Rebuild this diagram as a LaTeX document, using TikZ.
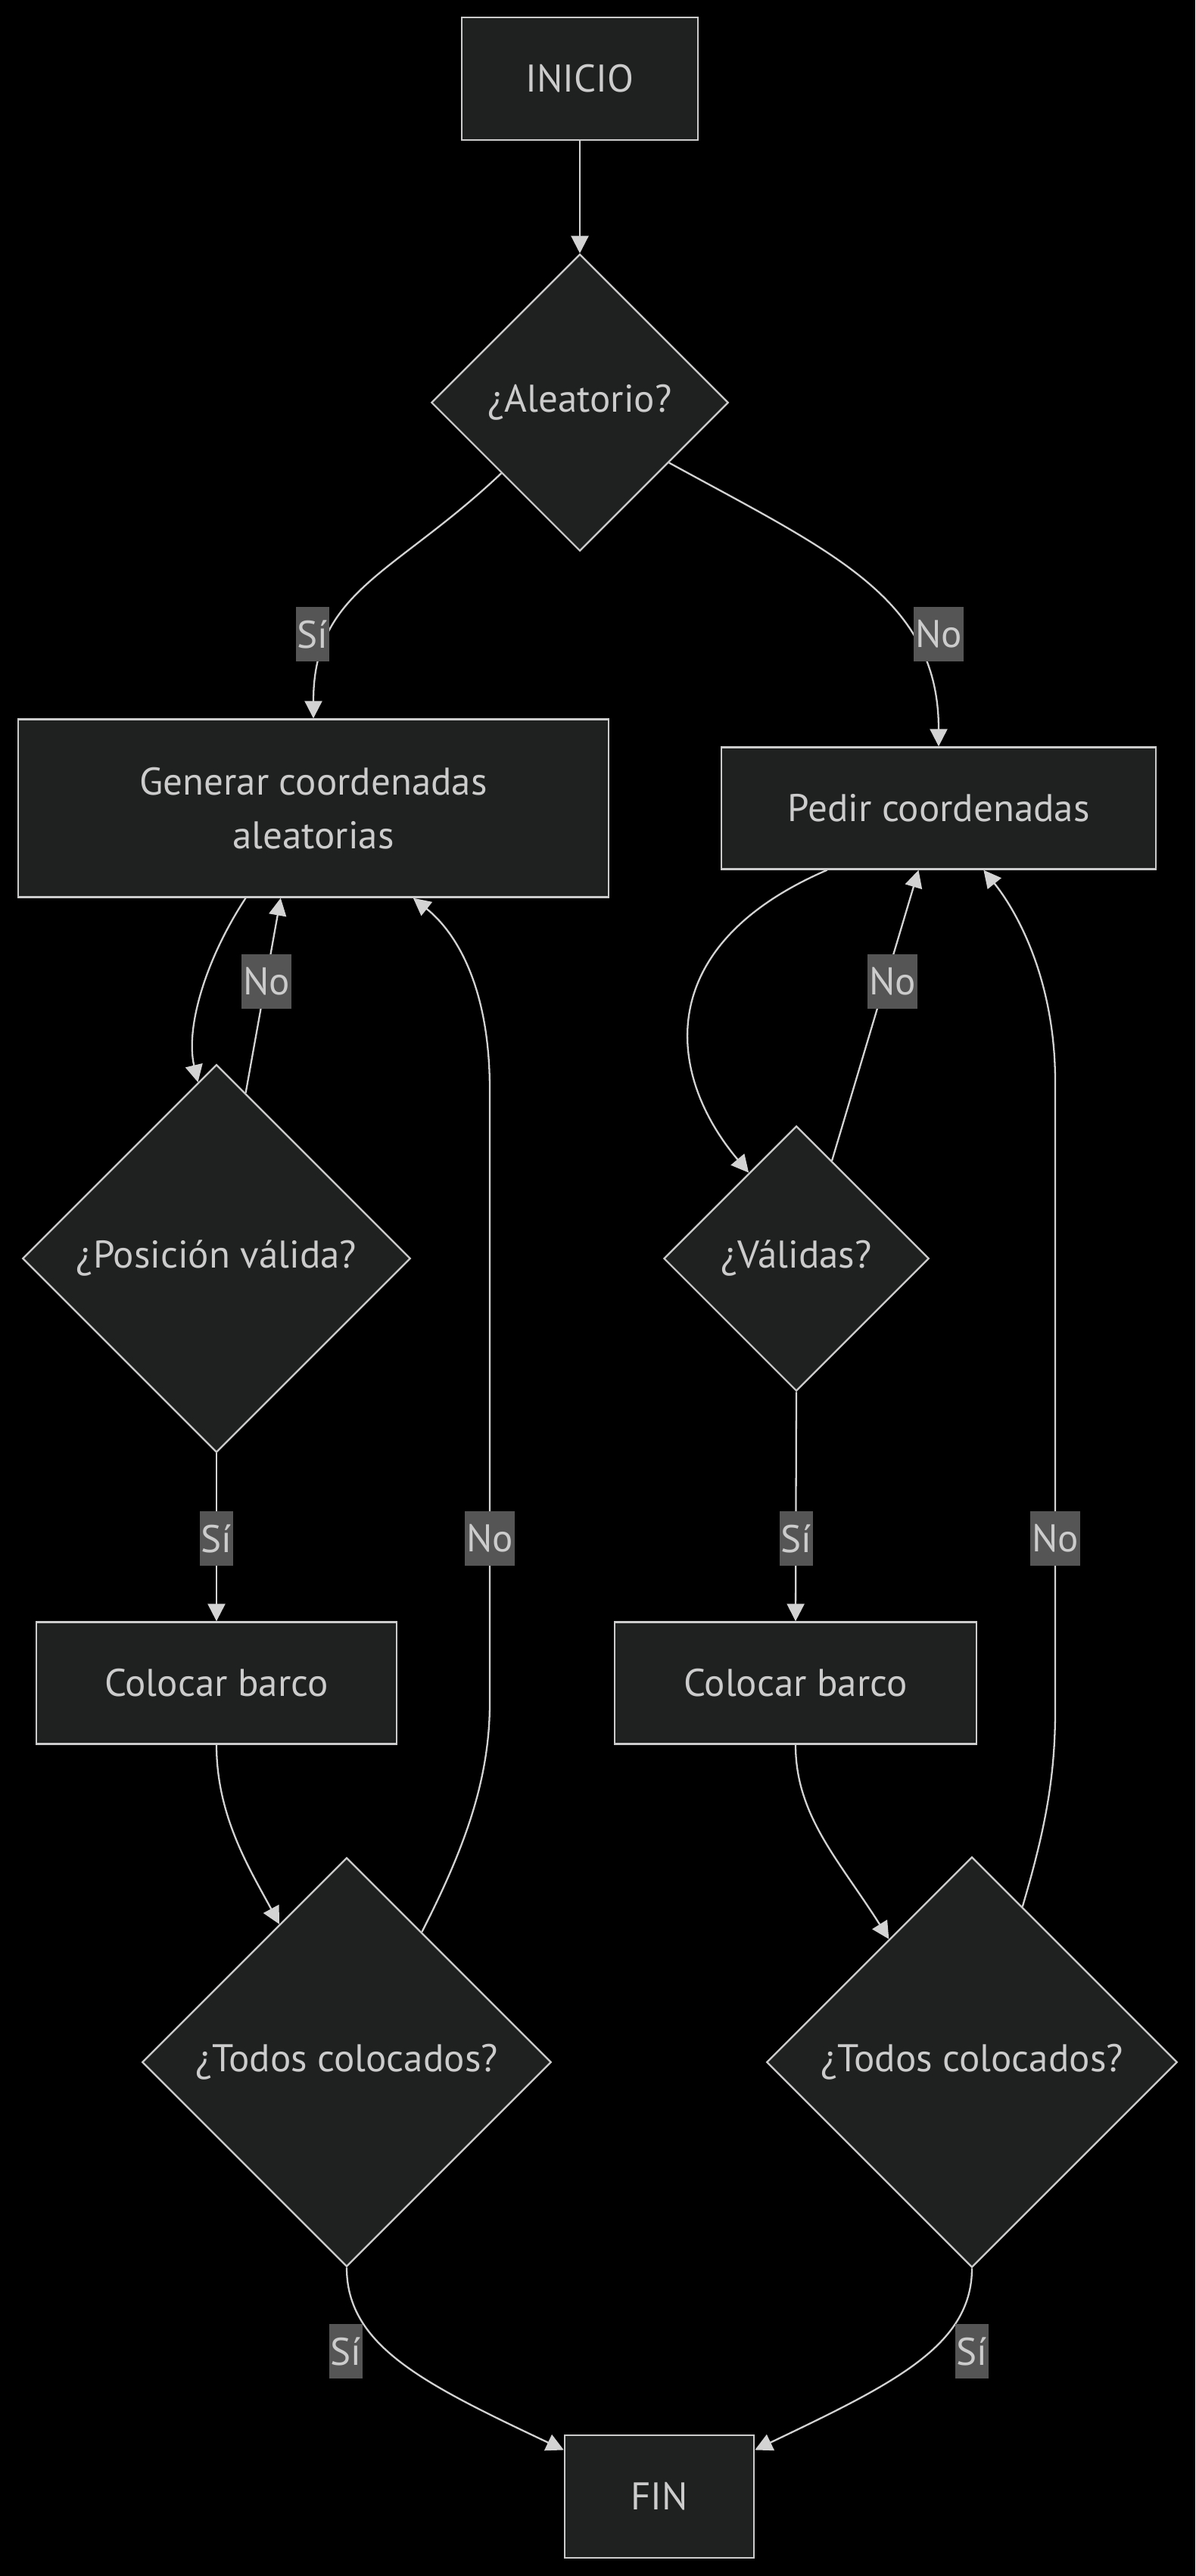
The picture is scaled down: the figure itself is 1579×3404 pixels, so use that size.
\documentclass[tikz,border=0pt]{standalone}
\usepackage{fontspec}
\setmainfont{PT Sans}
\usetikzlibrary{shapes.geometric,arrows.meta}
\definecolor{nfill}{RGB}{31,32,32}
\definecolor{stroke}{RGB}{204,204,204}
\definecolor{edgec}{RGB}{211,211,211}
\definecolor{txt}{RGB}{204,204,204}
\definecolor{lblbg}{RGB}{85,85,85}
\begin{document}
\begin{tikzpicture}[x=0.01cm,y=-0.01cm,
  every node/.style={font=\fontsize{14.5pt}{20.3pt}\selectfont, text=txt},
  box/.style={draw=stroke, fill=nfill, line width=0.65pt, inner sep=0pt, rectangle},
  dec/.style={draw=stroke, fill=nfill, line width=0.65pt, inner sep=0pt, diamond, aspect=1},
  arr/.style={draw=edgec, line width=0.65pt, -{Triangle[length=0.23cm,width=0.23cm]}},
  lbl/.style={fill=lblbg, inner xsep=0.5pt, inner ysep=0pt, minimum height=0.72cm, text=txt}
]
\fill[black] (0,0) rectangle (1579,3404);
\useasboundingbox (0,0) rectangle (1579,3404);

% nodes
\node[box, minimum width=3.12cm, minimum height=1.62cm] (inicio) at (766,104) {INICIO};
\node[dec, minimum width=3.92cm, minimum height=3.92cm] (alea) at (766,532) {¿Aleatorio?};
\node[box, minimum width=7.80cm, minimum height=2.35cm, align=center] (gen) at (414,1068) {Generar coordenadas\\aleatorias};
\node[box, minimum width=5.74cm, minimum height=1.61cm] (pedir) at (1240,1068) {Pedir coordenadas};
\node[dec, minimum width=5.12cm, minimum height=5.12cm] (pos) at (286,1663) {¿Posición válida?};
\node[dec, minimum width=3.50cm, minimum height=3.50cm] (val) at (1052,1663) {¿Válidas?};
\node[box, minimum width=4.76cm, minimum height=1.61cm] (colL) at (286,2224) {Colocar barco};
\node[box, minimum width=4.78cm, minimum height=1.61cm] (colR) at (1051,2224) {Colocar barco};
\node[dec, minimum width=5.40cm, minimum height=5.40cm] (todL) at (458,2725) {¿Todos colocados?};
\node[dec, minimum width=5.42cm, minimum height=5.42cm] (todR) at (1284,2725) {¿Todos colocados?};
\node[box, minimum width=2.50cm, minimum height=1.62cm] (fin) at (871,3299) {FIN};

% edges
\draw[arr] (inicio.south) -- (alea.north);

\draw[arr] (alea.222) .. controls (520,760) and (414,780) .. (gen.north);
\node[lbl] (lSi1) at (413,838) {Sí};

\draw[arr] (alea.-34) .. controls (1100,730) and (1240,790) .. (pedir.north);
\node[lbl] (lNo1) at (1240,838) {No};

\draw[arr] (gen.233.3) .. controls (270,1270) and (245,1360) .. (pos.96);

\draw[arr] (pos.80) -- (gen.250);
\node[lbl] (lNo2) at (352,1297) {No};

\draw[arr] (pos.south) -- (colL.north);
\node[lbl] (lSi2) at (286,2033) {Sí};

\draw[arr] (colL.south) .. controls (286,2400) and (330,2470) .. (todL.116);

\draw[arr] (todL.60) .. controls (615,2440) and (647,2350) .. (647,2250)
  -- (647,1440) .. controls (647,1300) and (600,1230) .. (gen.-42.4);
\node[lbl] (lNo3) at (647,2033) {No};

\draw[arr] (todL.south) .. controls (458,3100) and (560,3150) .. (fin.154);
\node[lbl] (lSi3) at (457,3107) {Sí};

\draw[arr] (pedir.209.5) .. controls (860,1250) and (880,1420) .. (val.119);

\draw[arr] (val.70) -- (pedir.252.2);
\node[lbl] (lNo4) at (1179,1297) {No};

\draw[arr] (val.south) -- (colR.north);
\node[lbl] (lSi4) at (1052,2033) {Sí};

\draw[arr] (colR.south) .. controls (1051,2400) and (1110,2460) .. (todR.124);

\draw[arr] (todR.72) .. controls (1380,2420) and (1394,2350) .. (1394,2260)
  -- (1394,1430) .. controls (1394,1290) and (1340,1200) .. (pedir.-54);
\node[lbl] (lNo5) at (1394,2033) {No};

\draw[arr] (todR.south) .. controls (1284,3100) and (1180,3150) .. (fin.26);
\node[lbl] (lSi5) at (1284,3107) {Sí};

\end{tikzpicture}
\end{document}
